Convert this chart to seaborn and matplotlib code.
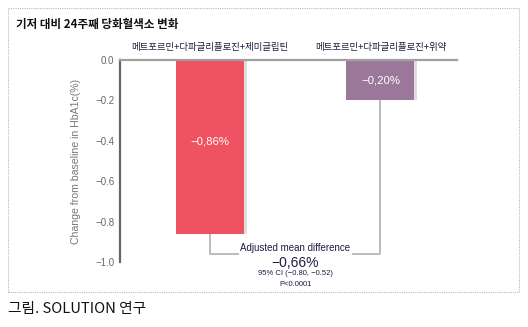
import matplotlib
matplotlib.use("Agg")
import matplotlib.pyplot as plt
from matplotlib.patches import Rectangle
import seaborn as sns
import pandas as pd

# Data
groups = ["메트포르민+다파글리플로진+제미글립틴", "메트포르민+다파글리플로진+위약"]
changes = [-0.86, -0.20]
bar_labels = ["−0,86%", "−0,20%"]
diff_label = "−0,66%"
ci_label = "95% CI (−0.80, −0.52)"
p_label = "P<0.0001"
y_ticks = [0.0, -0.2, -0.4, -0.6, -0.8, -1.0]
y_ticklabels = ["0.0", "−0.2", "−0.4", "−0.6", "−0.8", "−1.0"]

title = "기저 대비 24주째 당화혈색소 변화"
caption = "그림. SOLUTION 연구"
ylabel = "Change from baseline in HbA1c(%)"

colors = ["#ef5260", "#9b7899"]

sns.set_style("white")
plt.rcParams["font.family"] = ["Noto Sans CJK KR", "DejaVu Sans"]

df = pd.DataFrame({"group": groups, "change": changes})

W, H = 528, 327
fig = plt.figure(figsize=(W / 100, H / 100), dpi=100)
ax = fig.add_axes([120 / W, 1 - 262 / H, 337 / W, 202 / H])

sns.barplot(data=df, x="group", y="change", hue="group", palette=colors,
            width=0.4, legend=False, ax=ax, saturation=1)
for p in ax.patches:
    p.set_edgecolor("none")

ax.set_xlim(-0.53, 1.45)
ax.set_ylim(-1.0, 0.0)

# faint shadow on the right of each bar
for p in list(ax.patches):
    x0, w = p.get_x(), p.get_width()
    h = p.get_height()
    ax.add_patch(Rectangle((x0 + w, 0), 0.014, h, facecolor="#dedede",
                           edgecolor="none", zorder=p.get_zorder() - 0.1))

# value labels inside bars
for p, lab in zip(ax.patches[:2], bar_labels):
    cx = p.get_x() + p.get_width() / 2
    h = p.get_height()
    ypos = h * 0.47 if abs(h) > 0.5 else h / 2
    ax.text(cx, ypos, lab, ha="center", va="center", color="white",
            fontsize=8.2, family=["Liberation Sans"])

# category labels on top
ax.xaxis.tick_top()
ax.set_xticks(range(len(groups)))
ax.set_xticklabels(groups, fontsize=6.8, color="#1c1c44", fontweight="medium")
ax.tick_params(axis="x", length=0, pad=6)
ax.set_xlabel("")

ax.set_yticks(y_ticks)
ax.set_yticklabels(y_ticklabels, fontsize=7, color="#666666",
                   family=["Liberation Sans"])
ax.tick_params(axis="y", length=3, direction="in", color="#666666", width=1, pad=4)
ax.set_ylabel(ylabel, fontsize=7.6, color="#777777", family=["Liberation Sans"],
              labelpad=10)

for s in ["right", "bottom"]:
    ax.spines[s].set_visible(False)
ax.spines["left"].set_color("#666666")
ax.spines["left"].set_linewidth(1.6)
ax.spines["top"].set_color("#a0a0a0")
ax.spines["top"].set_linewidth(1.6)

# bracket showing the adjusted mean difference
x0c = ax.patches[0].get_x() + ax.patches[0].get_width() / 2
x1c = ax.patches[1].get_x() + ax.patches[1].get_width() / 2
mid = (x0c + x1c) / 2
y_br = -0.96
t = ax.text(mid, -0.93, "Adjusted mean difference", ha="center", va="center",
            fontsize=7, color="#1c1c44", family=["Liberation Sans"], clip_on=False)
fig.canvas.draw()
bb = t.get_window_extent().transformed(ax.transData.inverted())
gap = 0.01
line_kw = dict(color="#b0b0b0", lw=1.2, clip_on=False, solid_capstyle="butt")
ax.plot([x0c, x0c, bb.x0 - gap], [changes[0], y_br, y_br], **line_kw)
ax.plot([bb.x1 + gap, x1c, x1c], [y_br, y_br, changes[1]], **line_kw)

ax.text(mid, -1.005, diff_label, ha="center", va="center", fontsize=10,
        color="#1c1c44", family=["Liberation Sans"], clip_on=False)
ax.text(mid, -1.055, ci_label, ha="center", va="center", fontsize=5.5,
        color="#1c1c44", family=["Liberation Sans"], clip_on=False)
ax.text(mid, -1.112, p_label, ha="center", va="center", fontsize=5.5,
        color="#1c1c44", family=["Liberation Sans"], clip_on=False)

# dotted frame around the chart
fig.add_artist(Rectangle((8 / W, 1 - 292 / H), 511 / W, 284 / H,
                         transform=fig.transFigure, fill=False,
                         edgecolor="#b8b8b8", lw=0.8, linestyle=(0, (1, 1))))

fig.text(16 / W, 1 - 24 / H, title, ha="left", va="center", fontsize=8.3,
         fontweight="bold", color="#111111")
fig.text(8 / W, 1 - 309 / H, caption, ha="left", va="center", fontsize=10.6,
         fontweight="medium", color="#111111")

fig.savefig("out.png", dpi=100)
